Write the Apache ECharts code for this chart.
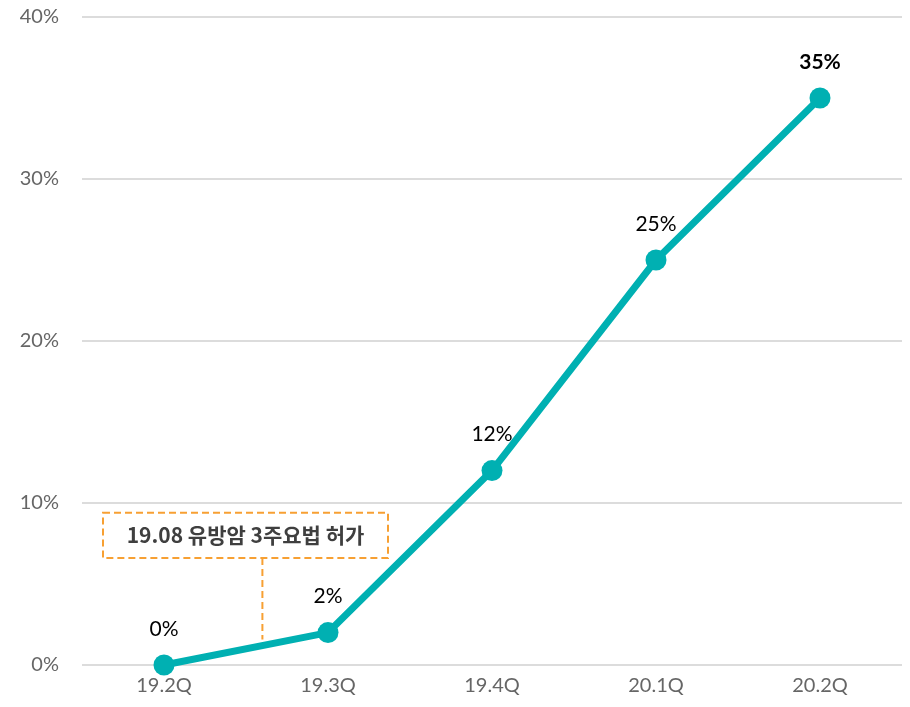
<!DOCTYPE html>
<html>
<head>
<meta charset="utf-8">
<script src="https://cdn.jsdelivr.net/npm/echarts@6/dist/echarts.min.js"></script>
<style>
html,body{margin:0;padding:0;background:#fff;}
#chart{width:910px;height:707px;}
</style>
</head>
<body>
<div id="chart"></div>
<script>
var categories = ['19.2Q', '19.3Q', '19.4Q', '20.1Q', '20.2Q'];
var values = [0, 2, 12, 25, 35];
var yTicks = [0, 10, 20, 30, 40];
var annotationText = '19.08 유방암 3주요법 허가';
var annotationPos = 0.6; // category position of the approval date (Aug 2019)

var chart = echarts.init(document.getElementById('chart'));
var teal = '#00B0B2';
var font = 'Lato, "Noto Sans", sans-serif';
var option = {
  animation: false,
  grid: {left: 82, right: 8, top: 17, bottom: 42},
  xAxis: {
    type: 'category',
    data: categories,
    boundaryGap: true,
    axisLine: {show: false},
    axisTick: {show: false},
    axisLabel: {color: '#666', fontSize: 20, fontFamily: font, margin: 11}
  },
  yAxis: {
    type: 'value',
    min: yTicks[0],
    max: yTicks[yTicks.length - 1],
    interval: 10,
    axisLine: {show: false},
    axisTick: {show: false},
    splitLine: {lineStyle: {color: '#d0d0d0', width: 1.5}},
    axisLabel: {color: '#666', fontSize: 20, fontFamily: font, margin: 23, formatter: '{value}%'}
  },
  series: [{
    type: 'line',
    data: values.map(function (v, i) {
      var d = {value: v};
      if (i === values.length - 1) d.label = {fontWeight: 'bold'};
      return d;
    }),
    symbol: 'circle',
    symbolSize: 21,
    lineStyle: {color: teal, width: 7},
    itemStyle: {color: teal},
    label: {
      show: true,
      position: 'top',
      distance: 15,
      color: '#000',
      fontSize: 21,
      fontFamily: font,
      formatter: '{c}%'
    }
  }]
};
chart.setOption(option);

// annotation box anchored to data coordinates
var x0 = chart.convertToPixel({xAxisIndex: 0}, 0);
var x1 = chart.convertToPixel({xAxisIndex: 0}, 1);
var xLine = x0 + annotationPos * (x1 - x0);
var yLineVal = values[0] + annotationPos * (values[1] - values[0]);
var yBottom = chart.convertToPixel({yAxisIndex: 0}, yLineVal) - 6;
var boxTop = chart.convertToPixel({yAxisIndex: 0}, 9.4);
var boxBottom = chart.convertToPixel({yAxisIndex: 0}, 6.6);
var boxLeft = 103, boxRight = 388;
chart.setOption({
  graphic: [
    {
      type: 'rect',
      shape: {x: boxLeft, y: boxTop, width: boxRight - boxLeft, height: boxBottom - boxTop},
      style: {fill: '#fff', stroke: '#F7A033', lineWidth: 2, lineDash: [7, 4]},
      z: 10
    },
    {
      type: 'text',
      x: (boxLeft + boxRight) / 2,
      y: (boxTop + boxBottom) / 2,
      style: {
        text: annotationText,
        fill: '#3f3f3f',
        font: 'bold 21px "Noto Sans CJK KR", sans-serif',
        align: 'center',
        verticalAlign: 'middle'
      },
      z: 11
    },
    {
      type: 'line',
      shape: {x1: xLine, y1: boxBottom, x2: xLine, y2: yBottom},
      style: {stroke: '#F7A033', lineWidth: 2, lineDash: [7, 4]},
      z: 1
    }
  ]
});
</script>
</body>
</html>
